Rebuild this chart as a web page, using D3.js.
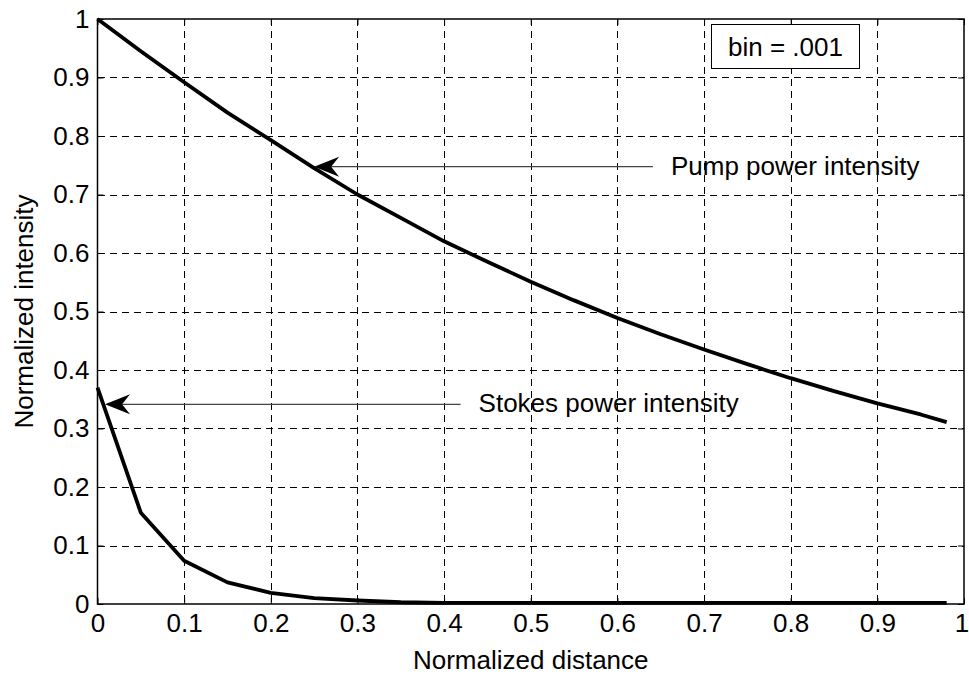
<!DOCTYPE html>
<html>
<head>
<meta charset="utf-8">
<script src="https://cdn.jsdelivr.net/npm/d3@7"></script>
<style>
  body { margin: 0; background: #fff; }
  svg { display: block; font-family: "Liberation Sans", Arial, Helvetica, sans-serif; }
</style>
</head>
<body>
<svg id="chart" width="969" height="675"></svg>
<script>
// Normalized distance samples (step 0.05, last at 0.98)
const distance = [0, 0.05, 0.1, 0.15, 0.2, 0.25, 0.3, 0.35, 0.4, 0.45, 0.5,
                  0.55, 0.6, 0.65, 0.7, 0.75, 0.8, 0.85, 0.9, 0.95, 0.98];
const pumpIntensity = [1.0, 0.945, 0.892, 0.840, 0.793, 0.745, 0.700, 0.660, 0.620, 0.585, 0.551,
                       0.519, 0.489, 0.461, 0.435, 0.410, 0.386, 0.364, 0.343, 0.324, 0.311];
const stokesIntensity = [0.370, 0.156, 0.074, 0.037, 0.019, 0.010, 0.006, 0.003, 0.002, 0.002, 0.002,
                         0.002, 0.002, 0.002, 0.002, 0.002, 0.002, 0.002, 0.002, 0.002, 0.002];
const xTicks = [0, 0.1, 0.2, 0.3, 0.4, 0.5, 0.6, 0.7, 0.8, 0.9, 1];
const yTicks = [0, 0.1, 0.2, 0.3, 0.4, 0.5, 0.6, 0.7, 0.8, 0.9, 1];
const annotations = [
  { label: "Pump power intensity",   tip: [0.250, 0.7475], tail: [0.641, 0.7475] },
  { label: "Stokes power intensity", tip: [0.0087, 0.3414], tail: [0.419, 0.3414] }
];
const binLabel = "bin = .001";

const svg = d3.select("#chart");
const m = { left: 97.5, right: 964, top: 19, bottom: 604 };
const x = d3.scaleLinear().domain([0, 1]).range([m.left, m.right]);
const y = d3.scaleLinear().domain([0, 1]).range([m.bottom, m.top]);
const fmt = d => d === 0 ? "0" : d === 1 ? "1" : d3.format(".1f")(d);
const tickFont = 26, labelFont = 26;

// dashed grid
const grid = svg.append("g").attr("stroke", "#000").attr("stroke-width", 1)
  .attr("stroke-dasharray", "7,5").attr("shape-rendering", "crispEdges");
grid.selectAll(".gx").data(xTicks.slice(1, -1)).join("line")
  .attr("x1", d => Math.round(x(d)) + 0.5).attr("x2", d => Math.round(x(d)) + 0.5)
  .attr("y1", m.top).attr("y2", m.bottom);
grid.selectAll(".gy").data(yTicks.slice(1, -1)).join("line")
  .attr("y1", d => Math.round(y(d)) + 0.5).attr("y2", d => Math.round(y(d)) + 0.5)
  .attr("x1", m.left).attr("x2", m.right);

// axes with inward ticks
const axisStyle = g => {
  g.select(".domain").remove();
  g.selectAll(".tick line").attr("stroke", "#000");
  g.selectAll(".tick text").attr("font-size", tickFont).attr("fill", "#000")
    .attr("font-family", "'Liberation Sans', Arial, sans-serif");
};
const xAxis = svg.append("g").attr("transform", `translate(0,${m.bottom})`)
  .call(d3.axisBottom(x).tickValues(xTicks).tickFormat(fmt).tickSizeInner(-6).tickPadding(10))
  .call(axisStyle);
// nudge the last label so it stays inside the canvas
xAxis.selectAll(".tick text").filter(d => d === 1).attr("dx", -2.5);
svg.append("g").attr("transform", `translate(0,${m.top})`)
  .call(d3.axisTop(x).tickValues(xTicks).tickFormat("").tickSizeInner(-6))
  .call(axisStyle);
svg.append("g").attr("transform", `translate(${m.left},0)`)
  .call(d3.axisLeft(y).tickValues(yTicks).tickFormat(fmt).tickSizeInner(-6).tickPadding(8))
  .call(axisStyle);
svg.append("g").attr("transform", `translate(${m.right},0)`)
  .call(d3.axisRight(y).tickValues(yTicks).tickFormat("").tickSizeInner(-6))
  .call(axisStyle);

// frame
svg.append("rect").attr("x", m.left).attr("y", m.top)
  .attr("width", m.right - m.left).attr("height", m.bottom - m.top)
  .attr("fill", "none").attr("stroke", "#000").attr("stroke-width", 1.5);

// curves
const line = d3.line().x(d => x(d[0])).y(d => y(d[1]));
[pumpIntensity, stokesIntensity].forEach(vals => {
  svg.append("path").datum(distance.map((d, i) => [d, vals[i]]))
    .attr("d", line).attr("fill", "none").attr("stroke", "#000")
    .attr("stroke-width", 3.8).attr("stroke-linejoin", "round");
});

// annotation arrows
annotations.forEach(a => {
  const tx = x(a.tip[0]), ty = y(a.tip[1]);
  svg.append("line")
    .attr("x1", x(a.tail[0])).attr("y1", ty)
    .attr("x2", tx + 3).attr("y2", ty)
    .attr("stroke", "#444").attr("stroke-width", 1.3);
  svg.append("path")
    .attr("d", `M${tx},${ty} l25,-10 l-8,10 l8,10 z`)
    .attr("fill", "#000");
  svg.append("text").attr("x", x(a.tail[0]) + 18).attr("y", ty + 8)
    .attr("font-size", labelFont).text(a.label);
});

// bin size box
svg.append("rect").attr("x", 711.5).attr("y", 24.5).attr("width", 148).attr("height", 44)
  .attr("fill", "#fff").attr("stroke", "#000").attr("stroke-width", 1);
svg.append("text").attr("x", 785.5).attr("y", 55.5).attr("text-anchor", "middle")
  .attr("font-size", labelFont).text(binLabel);

// axis titles
svg.append("text").attr("x", (m.left + m.right) / 2).attr("y", 669)
  .attr("text-anchor", "middle").attr("font-size", labelFont).text("Normalized distance");
svg.append("text").attr("transform", `translate(33,${(m.top + m.bottom) / 2}) rotate(-90)`)
  .attr("text-anchor", "middle").attr("font-size", labelFont).text("Normalized intensity");
</script>
</body>
</html>
